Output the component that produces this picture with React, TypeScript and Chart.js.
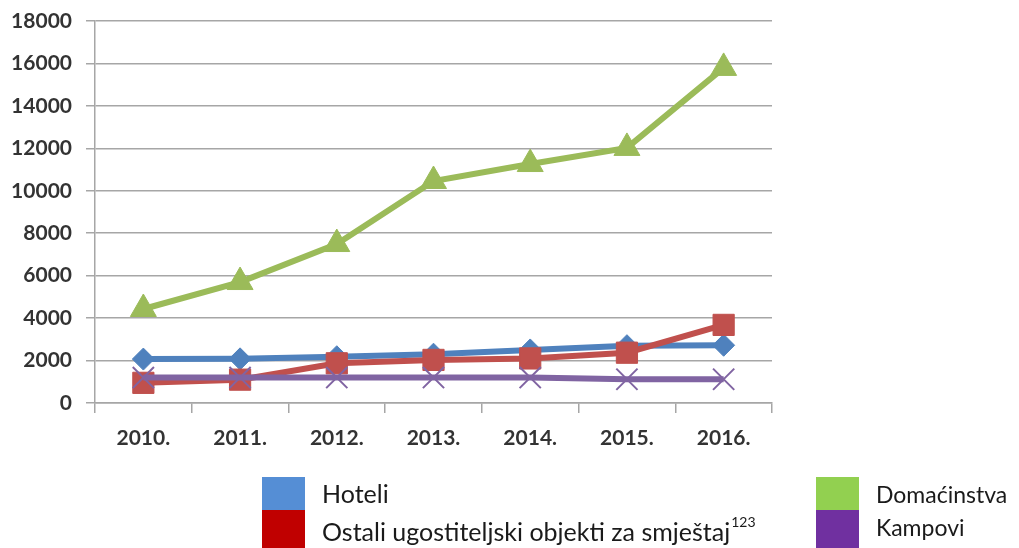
import React, { useEffect, useRef } from "react";
import { Chart, registerables } from "chart.js";

Chart.register(...registerables);

const years = ["2010.", "2011.", "2012.", "2013.", "2014.", "2015.", "2016."];
const hoteli = [2070, 2080, 2180, 2300, 2500, 2700, 2720];
const ostali = [950, 1100, 1870, 2030, 2100, 2370, 3680];
const domacinstva = [4430, 5700, 7490, 10460, 11260, 12020, 15790];
const kampovi = [1200, 1200, 1200, 1200, 1200, 1120, 1120];
const yTicks = [0, 2000, 4000, 6000, 8000, 10000, 12000, 14000, 16000, 18000];

const W = 1019;
const H = 548;

export default function App() {
  const ref = useRef<HTMLCanvasElement | null>(null);

  useEffect(() => {
    if (!ref.current) return;
    const chart = new Chart(ref.current, {
      type: "line",
      data: {
        labels: years,
        datasets: [
          {
            label: "Hoteli",
            data: hoteli,
            borderColor: "#4F81BD",
            backgroundColor: "#4F81BD",
            borderWidth: 6,
            pointStyle: "rectRot",
            pointRadius: 11,
            pointBorderWidth: 1,
            order: 4,
          },
          {
            label: "Ostali ugostiteljski objekti za smještaj",
            data: ostali,
            borderColor: "#C0504D",
            backgroundColor: "#C0504D",
            borderWidth: 6,
            pointStyle: "rect",
            pointRadius: 15,
            pointBorderWidth: 1,
            order: 3,
          },
          {
            label: "Domaćinstva",
            data: domacinstva,
            borderColor: "#9BBB59",
            backgroundColor: "#9BBB59",
            borderWidth: 6,
            pointStyle: "triangle",
            pointRadius: 15,
            pointBorderWidth: 1,
            order: 2,
          },
          {
            label: "Kampovi",
            data: kampovi,
            borderColor: "#8064A2",
            backgroundColor: "#8064A2",
            borderWidth: 6,
            pointStyle: "crossRot",
            pointRadius: 15,
            pointBorderWidth: 2,
            order: 1,
          },
        ],
      },
      options: {
        animation: false,
        responsive: false,
        maintainAspectRatio: false,
        layout: { padding: { left: 0, top: 21, right: 247, bottom: 85 } },
        plugins: { legend: { display: false }, tooltip: { enabled: false } },
        scales: {
          x: {
            offset: true,
            grid: {
              display: true,
              drawOnChartArea: false,
              drawTicks: true,
              tickLength: 10,
              color: "#A6A6A6",
              lineWidth: 1.5,
              offset: true,
            },
            border: { display: true, color: "#A6A6A6", width: 1.5 },
            ticks: {
              color: "#333333",
              padding: 13,
              font: { family: "Lato", size: 21, weight: "bold" },
            },
            afterFit: (scale: any) => {
              scale.height = 60;
              scale.paddingLeft = 0;
              scale.paddingRight = 0;
            },
          },
          y: {
            min: 0,
            max: 18000,
            afterBuildTicks: (scale: any) => {
              scale.ticks = yTicks.map((v) => ({ value: v }));
            },
            grid: {
              color: "#A6A6A6",
              lineWidth: 1.5,
              tickLength: 9,
            },
            border: { display: true, color: "#A6A6A6", width: 1.5 },
            ticks: {
              color: "#333333",
              padding: 14,
              font: { family: "Lato", size: 21, weight: "bold" },
              callback: (v: any) => String(v),
            },
            afterFit: (scale: any) => {
              scale.width = 95;
              scale.paddingTop = 0;
              scale.paddingBottom = 0;
            },
          },
        },
      },
    });
    return () => chart.destroy();
  }, []);

  const text: React.CSSProperties = {
    position: "absolute",
    fontFamily: "Lato",
    fontSize: 25,
    color: "#1a1a1a",
    lineHeight: "25px",
    whiteSpace: "nowrap",
  };
  const sw = (left: number, top: number, h: number, c: string): React.CSSProperties => ({
    position: "absolute",
    left,
    top,
    width: 43,
    height: h,
    background: c,
  });

  return (
    <div style={{ position: "fixed", left: 0, top: 0, width: W, height: H, background: "#fff", overflow: "hidden" }}>
      <canvas ref={ref} width={W} height={H} style={{ position: "absolute", left: 0, top: 0 }} />
      <div style={sw(262, 477, 33, "#558ED5")} />
      <div style={sw(262, 510, 38, "#C00000")} />
      <div style={sw(816, 477, 33, "#92D050")} />
      <div style={sw(816, 510, 38, "#7030A0")} />
      <div style={{ ...text, left: 322, top: 481 }}>Hoteli</div>
      <div style={{ ...text, left: 322, top: 514 }}>
        Ostali ugostiteljski objekti za smještaj
        <sup style={{ fontSize: 14, position: "relative", top: -5, marginLeft: 1 }}>123</sup>
      </div>
      <div style={{ ...text, fontSize: 23, left: 876, top: 482 }}>Domaćinstva</div>
      <div style={{ ...text, fontSize: 23, left: 876, top: 515 }}>Kampovi</div>
    </div>
  );
}
